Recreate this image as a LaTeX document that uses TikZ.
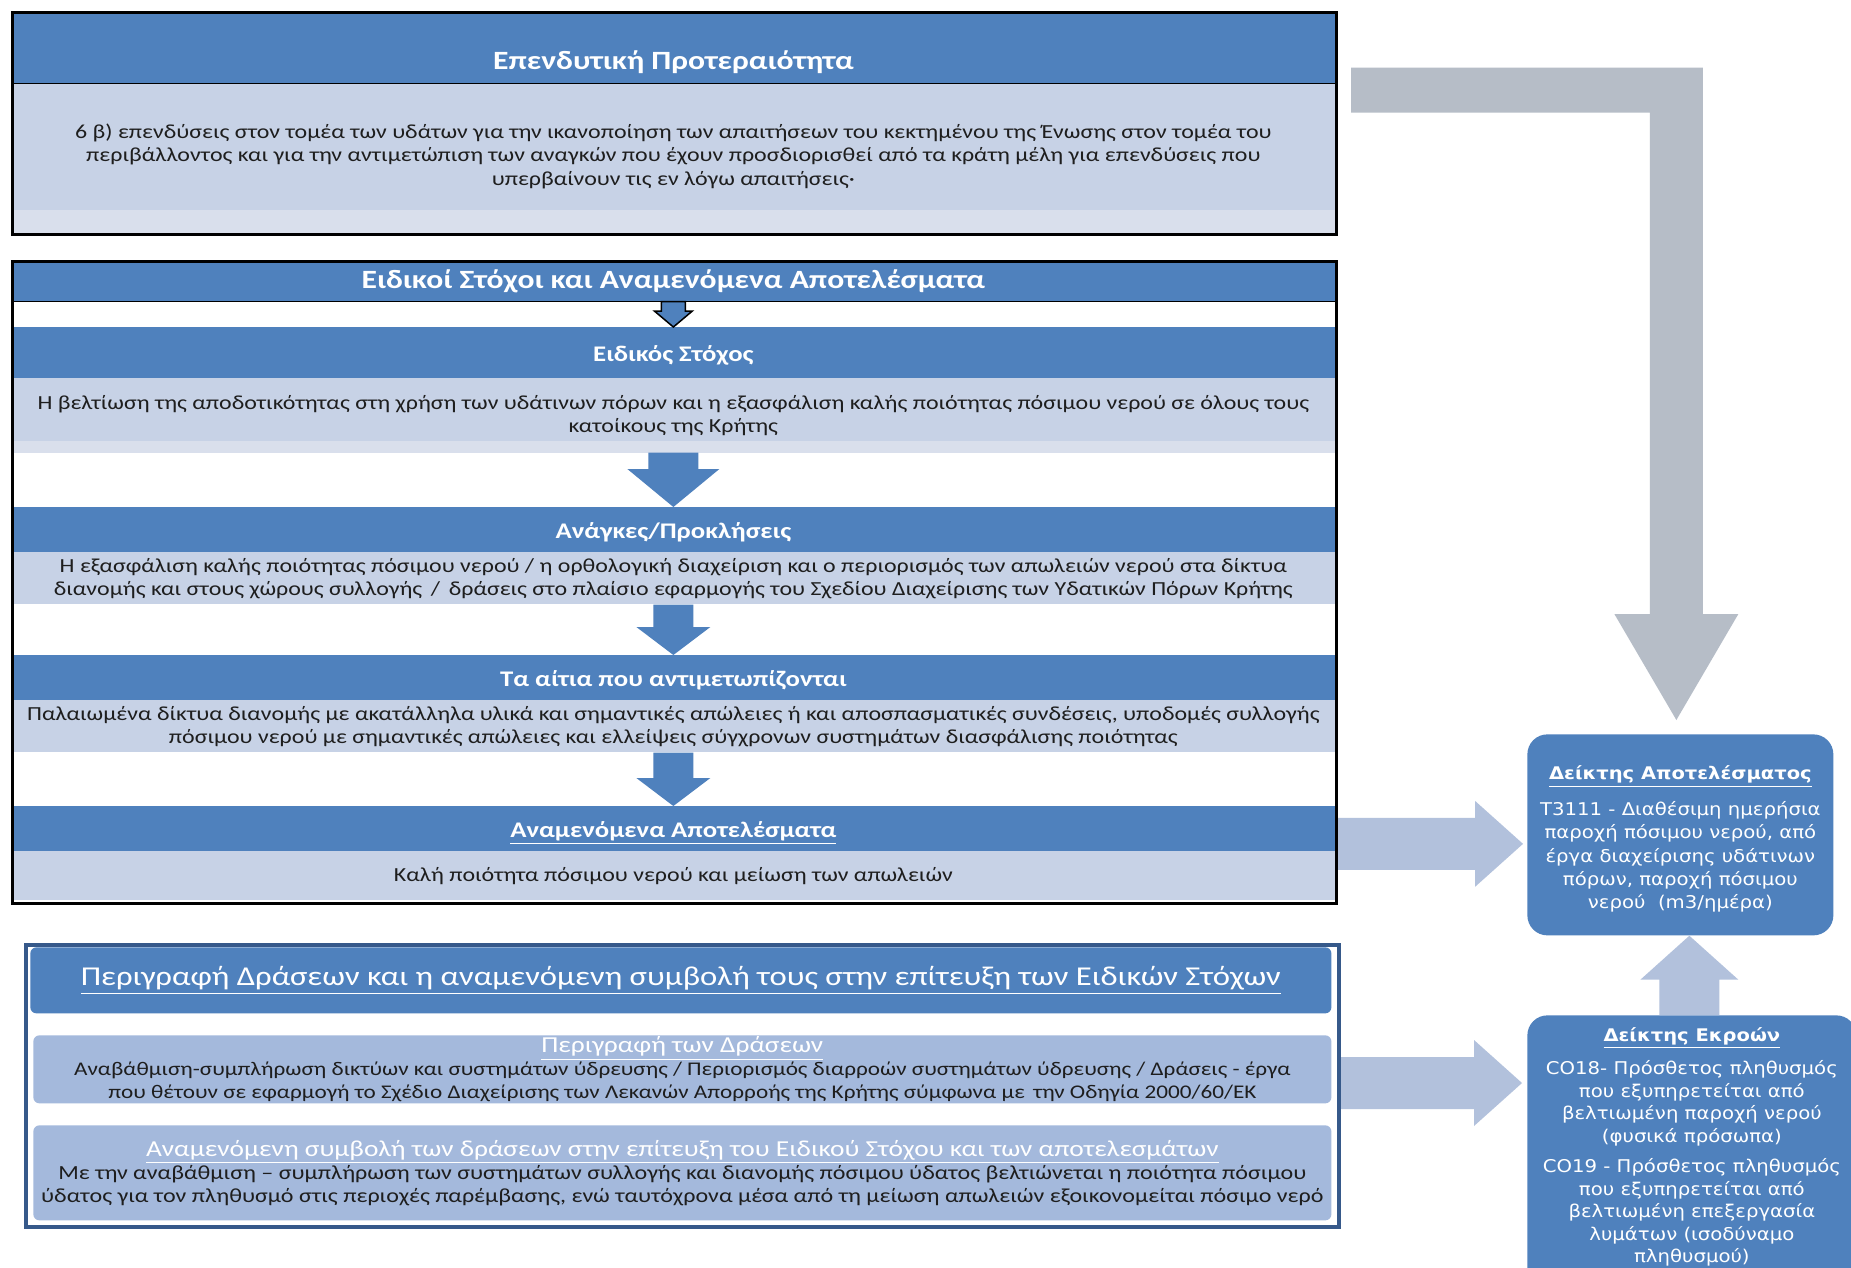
\documentclass[tikz,border=0pt]{standalone}
\usepackage{fontspec}
\setmainfont{Carlito}[FakeStretch=1.2]
\newfontfamily\indfont{DejaVu Sans}[FakeStretch=1.12]
\usetikzlibrary{calc}
\definecolor{headblue}{HTML}{4F81BD}
\definecolor{paleband}{HTML}{C7D2E6}
\definecolor{stripband}{HTML}{D9DFEC}
\definecolor{actblue}{HTML}{A4B9DC}
\definecolor{framedark}{HTML}{36598A}
\definecolor{greyarrow}{HTML}{B6BDC7}
\definecolor{sideblue}{HTML}{B2C1DC}
\definecolor{textgrey}{HTML}{1E1E1E}
% block arrow pointing down: from, tip, shaft half width, head half width, head length
\newcommand{\flowarrow}[6][fill=headblue]{%
  \fill[#1] ($(#2)+(-#4,0)$) -- ($(#3)+(-#4,-#6)$) -- ($(#3)+(-#5,-#6)$) -- (#3)
    -- ($(#3)+(#5,-#6)$) -- ($(#3)+(#4,-#6)$) -- ($(#2)+(#4,0)$) -- cycle;}
% block arrow pointing right
\newcommand{\sidearrow}[5]{%
  \fill[sideblue] ($(#1)+(0,-#3)$) -- ($(#2)+(-#5,-#3)$) -- ($(#2)+(-#5,-#4)$) -- (#2)
    -- ($(#2)+(-#5,#4)$) -- ($(#2)+(-#5,#3)$) -- ($(#1)+(0,#3)$) -- cycle;}
\begin{document}
\begin{tikzpicture}[x=0.2mm,y=-0.2mm,
    headbar/.style={fill=headblue,inner sep=0pt,anchor=north west,minimum width=264.8mm,
      text=white,font=\fontsize{12.7}{14}\selectfont\bfseries},
    subbar/.style={headbar,text height=11.5pt,text depth=1.5pt},
    titlebig/.style={text=white,inner sep=0pt,font=\fontsize{15}{17}\selectfont\bfseries},
    bodybar/.style={fill=paleband,inner sep=0pt,anchor=north west,minimum width=264.8mm,
      align=center,text=textgrey,font=\fontsize{11.35}{13.2}\selectfont},
    boxframe/.style={draw=black,line width=0.6mm,inner sep=0pt,anchor=north west},
    actbar/.style={fill=actblue,rounded corners=1.2mm,inner sep=0pt,anchor=north west,
      minimum width=259.6mm,align=center,text=textgrey,font=\fontsize{11}{13}\selectfont},
    indbox/.style={fill=headblue,rounded corners=4mm,inner sep=0pt,anchor=north west},
    indtext/.style={text=white,align=center,inner sep=0pt}]
  \useasboundingbox (0,0) rectangle (1851,1267);
  \clip (0,0) rectangle (1851,1267);
  \fill[white] (0,0) rectangle (1851,1267);

  % investment priority
  \node[headbar,minimum height=14.4mm] (prioHead) at (11,11) {};
  \node[titlebig] (prioTitle) at ($(prioHead.south)+(0,-22)$) {Επενδυτική Προτεραιότητα};
  \node[bodybar,minimum height=29.2mm] (prioBody) at (11,83) {6 β) επενδύσεις στον τομέα των υδάτων για την ικανοποίηση των απαιτήσεων του κεκτημένου της Ένωσης στον τομέα του\\
    περιβάλλοντος και για την αντιμετώπιση των αναγκών που έχουν προσδιορισθεί από τα κράτη μέλη για επενδύσεις που\\
    υπερβαίνουν τις εν λόγω απαιτήσεις·};
  \fill[stripband] ($(prioBody.south west)+(0,-20)$) rectangle ($(prioBody.south east)+(0,4)$);
  \draw[line width=0.3mm] (prioHead.south west) -- (prioHead.south east);
  \node[boxframe,minimum width=264.8mm,minimum height=44.4mm] (frameOne) at (11,11) {};

  % specific objectives
  \node[headbar,minimum height=8.2mm,font=\fontsize{15}{17}\selectfont\bfseries] (goalsHead) at (11,260) {Ειδικοί Στόχοι και Αναμενόμενα Αποτελέσματα};
  \node[subbar,minimum height=10.2mm] (aimHead) at (11,327) {Ειδικός Στόχος};
  \node[bodybar,minimum height=14.8mm] (aimBody) at (11,378) {Η βελτίωση της αποδοτικότητας στη χρήση των υδάτινων πόρων και η εξασφάλιση καλής ποιότητας πόσιμου νερού σε όλους τους\\
    κατοίκους της Κρήτης};
  \fill[stripband] ($(aimBody.south west)+(0,-12)$) rectangle (aimBody.south east);
  \node[subbar,minimum height=9mm] (needHead) at (11,507) {Ανάγκες/Προκλήσεις};
  \node[bodybar,minimum height=10.4mm] (needBody) at (11,552) {Η εξασφάλιση καλής ποιότητας πόσιμου νερού / η ορθολογική διαχείριση και ο περιορισμός των απωλειών νερού στα δίκτυα\\
    διανομής και στους χώρους συλλογής \,/\, δράσεις στο πλαίσιο εφαρμογής του Σχεδίου Διαχείρισης των Υδατικών Πόρων Κρήτης};
  \node[subbar,minimum height=9mm] (causeHead) at (11,655) {Τα αίτια που αντιμετωπίζονται};
  \node[bodybar,minimum height=10.4mm] (causeBody) at (11,700) {Παλαιωμένα δίκτυα διανομής με ακατάλληλα υλικά και σημαντικές απώλειες ή και αποσπασματικές συνδέσεις, υποδομές συλλογής\\
    πόσιμου νερού με σημαντικές απώλειες και ελλείψεις σύγχρονων συστημάτων διασφάλισης ποιότητας};
  \node[subbar,minimum height=9mm] (resultHead) at (11,806) {\underline{Αναμενόμενα Αποτελέσματα}};
  \node[bodybar,minimum height=9.8mm] (resultBody) at (11,851) {Καλή ποιότητα πόσιμου νερού και μείωση των απωλειών};

  \flowarrow[fill=headblue,draw=black,line width=0.3mm]{goalsHead.south}{aimHead.north}{12}{19}{16}
  \flowarrow{aimBody.south}{needHead.north}{25}{46}{38}
  \flowarrow{needBody.south}{causeHead.north}{20}{37}{28}
  \flowarrow{causeBody.south}{resultHead.north}{20}{37}{28}
  \draw[line width=0.3mm] (goalsHead.south west) -- (goalsHead.south east);
  \node[boxframe,minimum width=264.8mm,minimum height=128.4mm] (frameTwo) at (11,260) {};

  % actions
  \node[boxframe,draw=framedark,line width=0.8mm,minimum width=262.6mm,minimum height=56.4mm] (frameThree) at (24,943) {};
  \node[actbar,fill=headblue,text=white,minimum width=260.2mm,minimum height=13.2mm,font=\fontsize{15.5}{18}\selectfont] (actHead) at (30,947) {\underline{Περιγραφή Δράσεων και η αναμενόμενη συμβολή τους στην επίτευξη των Ειδικών Στόχων}};
  \node[actbar,minimum height=13.6mm] (actDesc) at (33,1035) {{\color{white}\fontsize{13}{13}\selectfont\underline{Περιγραφή των Δράσεων}}\\
    Αναβάθμιση-συμπλήρωση δικτύων και συστημάτων ύδρευσης / Περιορισμός διαρροών συστημάτων ύδρευσης / Δράσεις - έργα\\
    που θέτουν σε εφαρμογή το Σχέδιο Διαχείρισης των Λεκανών Απορροής της Κρήτης σύμφωνα με \,την Οδηγία 2000/60/ΕΚ};
  \node[actbar,minimum height=19mm,font=\fontsize{11.4}{13}\selectfont] (actGain) at (33,1125) {{\color{white}\fontsize{13}{13}\selectfont\underline{Αναμενόμενη συμβολή των δράσεων στην επίτευξη του Ειδικού Στόχου και των αποτελεσμάτων}}\\
    Με την αναβάθμιση – συμπλήρωση των συστημάτων συλλογής και διανομής πόσιμου ύδατος βελτιώνεται η ποιότητα πόσιμου\\
    ύδατος για τον πληθυσμό στις περιοχές παρέμβασης, ενώ ταυτόχρονα μέσα από τη μείωση απωλειών εξοικονομείται πόσιμο νερό};

  % indicators
  \node[indbox,minimum width=61.2mm,minimum height=40.2mm] (resBox) at (1527,734) {};
  \node[indtext,font=\indfont\fontsize{10}{13.1}\selectfont] (resText) at ($(resBox.center)+(0,4)$) {{\bfseries\fontsize{9.9}{13}\selectfont\underline{Δείκτης Αποτελέσματος}}\\[7.4pt]
    T3111 - Διαθέσιμη ημερήσια\\ παροχή πόσιμου νερού, από\\ έργα διαχείρισης υδάτινων\\ πόρων, παροχή πόσιμου\\ νερού \ (m3/ημέρα)};
  \node[indbox,minimum width=65.8mm,minimum height=57mm] (outBox) at (1527,1015) {};
  \node[indtext,font=\indfont\fontsize{10}{12.8}\selectfont] (outText) at ($(outBox.north)+(0,132)$) {{\bfseries\fontsize{9.9}{13}\selectfont\underline{Δείκτης Εκροών}}\\[6pt]
    CO18- Πρόσθετος πληθυσμός\\ που εξυπηρετείται από\\ βελτιωμένη παροχή νερού\\ (φυσικά πρόσωπα)\\[4.5pt]
    CO19 - Πρόσθετος πληθυσμός\\ που εξυπηρετείται από\\ βελτιωμένη επεξεργασία\\ λυμάτων (ισοδύναμο\\ πληθυσμού)};

  % connectors to the indicators
  \coordinate (grayStart) at ($(frameOne.east)+(13,-33.5)$);
  \coordinate (grayTip) at ($(resBox.north)+(-4,-14)$);
  \coordinate (grayBend) at (grayTip |- grayStart);
  \fill[greyarrow] ($(grayStart)+(0,-22.5)$) -- ($(grayBend)+(26.5,-22.5)$) -- ($(grayTip)+(26.5,-106)$)
    -- ($(grayTip)+(62,-106)$) -- (grayTip) -- ($(grayTip)+(-62,-106)$) -- ($(grayTip)+(-26.5,-106)$)
    -- ($(grayBend)+(-26.5,22.5)$) -- ($(grayStart)+(0,22.5)$) -- cycle;
  \coordinate (resIn) at ($(resBox.west)+(-4,9)$);
  \coordinate (outIn) at ($(outBox.north west)+(-5,68)$);
  \sidearrow{frameTwo.east |- resIn}{resIn}{26}{43}{48}
  \sidearrow{frameThree.east |- outIn}{outIn}{26}{43}{48}
  \coordinate (upTip) at ($(resBox.south)+(9,0)$);
  \coordinate (upFoot) at (upTip |- outBox.north);
  \fill[sideblue] ($(upFoot)+(-30,0)$) -- ($(upTip)+(-30,44)$) -- ($(upTip)+(-49,44)$) -- (upTip)
    -- ($(upTip)+(49,44)$) -- ($(upTip)+(30,44)$) -- ($(upFoot)+(30,0)$) -- cycle;
\end{tikzpicture}
\end{document}
